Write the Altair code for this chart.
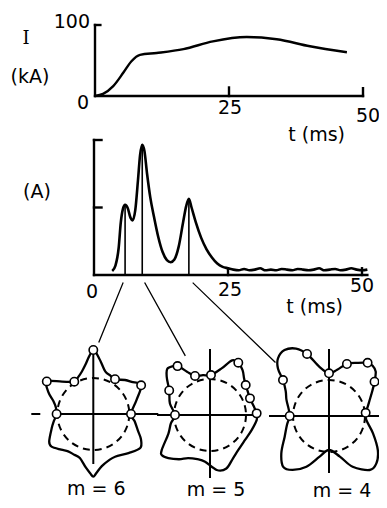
import altair as alt
import pandas as pd

# ---------------- data ----------------
# top panel: plasma current I (kA) vs t (ms)
top_t = [0, 1.5, 3.4, 5.3, 6.8, 8.4, 11.5, 16.5, 22, 28.3, 33.9, 40.1, 47]
top_I = [0, 3, 14, 33, 49, 58, 60.6, 66, 77, 83, 80, 70, 61.6]

# middle panel: signal (A) vs t (ms)
mid_t = [3.4, 4.0, 4.6, 5.0, 5.4, 5.8, 6.3, 6.8, 7.2, 7.7, 8.2, 8.6, 9.0, 9.4, 9.9,
         10.5, 11.2, 12.0, 12.8, 13.6, 14.3, 15.0, 15.8, 16.6, 17.2, 17.7, 18.2, 19.0,
         20.0, 21.0, 22.0, 23.0, 24.0, 25.0, 26.0, 27, 28, 29, 30, 31, 32, 33, 34, 35,
         36, 37, 38, 39, 40, 41, 42, 43, 44, 45, 46, 47, 48, 49, 50, 51]
mid_A = [0.06, 0.14, 0.4, 0.78, 0.98, 1.04, 0.99, 0.85, 0.81, 0.96, 1.4, 1.78, 1.93, 1.84, 1.5,
         1.15, 0.86, 0.56, 0.34, 0.22, 0.19, 0.23, 0.42, 0.77, 1.02, 1.13, 1.0, 0.78,
         0.55, 0.38, 0.26, 0.17, 0.12, 0.1, 0.08, 0.07, 0.09, 0.07, 0.08, 0.1, 0.07, 0.08, 0.07, 0.09,
         0.08, 0.07, 0.09, 0.08, 0.07, 0.08, 0.1, 0.07, 0.08, 0.09, 0.07, 0.08, 0.1, 0.08, 0.07, 0.08]
peak_t = [5.8, 9.0, 17.7]
peak_A = [1.04, 1.93, 1.13]

# connectors from the peaks to the mode pictures (in middle-panel units)
conn_t0 = [5.4, 9.5, 18.5]
conn_t1 = [0.93, 16.98, 33.77]
conn_y0 = [-0.12, -0.12, -0.12]
conn_y1 = [-0.99, -1.19, -1.29]

# polar mode shapes: angle (deg) and radius (dashed circle radius = 36)
m6_theta = [0, 18, 31, 40, 47, 58, 66, 74, 82, 87, 90, 94, 99, 105, 112, 120, 134, 145, 154, 162,
            170, 180, 190, 199, 212, 218, 228, 236, 245, 253, 262, 267, 270, 273, 279, 288, 297,
            312, 324, 332, 339, 350]
m6_r = [37.7, 45.5, 55.8, 50, 46.5, 41, 42, 44, 53, 60.8, 64, 58, 50, 44, 40, 37.5, 45, 56.8, 50, 42,
        38, 36.7, 40, 44, 52, 53, 48, 45, 45, 46, 54, 59.4, 62.7, 59, 53, 49, 48,
        52.6, 58, 54, 48, 42]
m6_mark_theta = [0, 31, 58, 90, 120.5, 145, 180]
m6_mark_r = [37.7, 55.8, 41, 64, 37.5, 56.8, 36.7]

m5_theta = [2, 12, 22.6, 32, 40, 47, 54, 61.6, 68, 76, 88.6, 100, 111, 118, 123.6, 132, 138.5, 149,
            164, 180, 192, 204, 216, 220, 226, 235, 243, 254, 264, 277, 287, 298, 309, 325, 340, 354]
m5_r = [46.7, 44.5, 43.3, 44.5, 46.6, 50, 55.4, 59.5, 59, 48, 40, 40.5, 41.8, 49, 58.7, 63, 57.8, 47.6,
        41.7, 35, 40, 45.5, 59.7, 62.7, 60, 54, 48.4, 46, 47, 55.4, 55.9, 49, 45, 43, 44.3, 47]
m5_mark_theta = [180, 149, 123.6, 111, 88.6, 61.6, 40, 22.6, 2]
m5_mark_r = [35, 47.6, 58.7, 41.8, 40, 59.5, 46.6, 43.3, 46.7]

m4_theta = [5, 14, 21.5, 30, 37, 43.5, 49, 54, 62, 71, 80, 90, 101, 109.5, 116, 124, 131.5, 137, 142,
            150, 159, 170, 180, 192, 205, 218, 228, 236, 246, 257, 270, 285, 295, 307, 315, 325,
            338.5, 354]
m4_r = [36.8, 40, 43.7, 50, 57, 64.4, 66.5, 65.7, 60.2, 55, 47, 42.7, 50, 65.8, 75, 79.5, 77, 69.8, 58.4,
        50, 45.6, 41, 39.3, 43, 48.9, 60.5, 68.4, 65, 55.5, 41.7, 34, 42, 56, 67.6, 67, 59.6,
        47.3, 37.5]
m4_mark_theta = [180, 142, 109.5, 90, 71, 54, 37, 5]
m4_mark_r = [39.3, 58.4, 65.8, 42.7, 55, 65.7, 57, 36.8]

circle_r = 36
mode_labels = ["m = 6", "m = 5", "m = 4"]

FONT = "DejaVu Sans"
FS = 19
LW = 2.4


def sc(domain, rng):
    return alt.Scale(domain=domain, range=rng, nice=False, zero=False)


def rules(df, xs, ys, width=LW):
    return alt.Chart(df).mark_rule(strokeWidth=width, color="black", strokeCap="square").encode(
        x=alt.X("x:Q", scale=xs, axis=None), x2="x2:Q",
        y=alt.Y("y:Q", scale=ys, axis=None), y2="y2:Q")


def label(x, y, s, xs, ys, dx=0, dy=0, align="center", font=FONT, size=FS):
    return alt.Chart(pd.DataFrame({"x": [x], "y": [y], "s": [s]})).mark_text(
        align=align, baseline="middle", dx=dx, dy=dy, font=font, fontSize=size, color="black"
    ).encode(x=alt.X("x:Q", scale=xs, axis=None), y=alt.Y("y:Q", scale=ys, axis=None), text="s:N")


layers = []

# ---------------- top panel ----------------
TX = sc([0, 50], [87, 355])
TY = sc([0, 100], [88, 17])
layers.append(rules(pd.DataFrame({
    "x": [0, 0, 0, 25, 50], "x2": [50, 0, 1, 25, 50],
    "y": [0, 0, 100, 0, 0], "y2": [0, 100, 100, 12, 11]}), TX, TY))
layers.append(alt.Chart(pd.DataFrame({"t": top_t, "I": top_I})).mark_line(
    interpolate="monotone", strokeWidth=LW, color="black").encode(
    x=alt.X("t:Q", scale=TX, axis=None), y=alt.Y("I:Q", scale=TY, axis=None)))
layers += [
    label(0, 100, "100", TX, TY, dx=-5, dy=-3, align="right"),
    label(0, 0, "0", TX, TY, dx=-12, dy=7),
    label(25, 0, "25", TX, TY, dx=1, dy=12),
    label(50, 0, "50", TX, TY, dx=5, dy=20),
    label(50, 0, "t (ms)", TX, TY, dx=-18, dy=39, align="right"),
    label(0, 100, "I", TX, TY, dx=-69, dy=14, font="DejaVu Serif", size=18),
    label(0, 100, "(kA)", TX, TY, dx=-65, dy=52),
]

# ---------------- middle panel ----------------
MX = sc([0, 50], [86, 354])
MY = sc([0, 2], [267, 132])
layers.append(rules(pd.DataFrame({
    "x": [0, 0, 0, 0, 25, 50], "x2": [51, 0, 1.4, 1.4, 25, 50],
    "y": [0, 0, 1, 2, 0, 0], "y2": [0, 2, 1, 2, 0.1, 0.1]}), MX, MY))
layers.append(rules(pd.DataFrame({
    "x": peak_t, "x2": peak_t, "y": [0] * 3, "y2": peak_A}), MX, MY, width=1.6))
layers.append(alt.Chart(pd.DataFrame({"t": mid_t, "A": mid_A})).mark_line(
    interpolate="monotone", strokeWidth=2.6, color="black").encode(
    x=alt.X("t:Q", scale=MX, axis=None), y=alt.Y("A:Q", scale=MY, axis=None)))
layers.append(rules(pd.DataFrame({
    "x": conn_t0, "x2": conn_t1, "y": conn_y0, "y2": conn_y1}), MX, MY, width=1.3))
layers += [
    label(0, 0, "0", MX, MY, dx=-2, dy=17),
    label(25, 0, "25", MX, MY, dx=2, dy=15),
    label(50, 0, "50", MX, MY, dx=0, dy=11),
    label(50, 0, "t (ms)", MX, MY, dx=-19, dy=32, align="right"),
    label(0, 1, "(A)", MX, MY, dx=-57, dy=-16),
]

# ---------------- polar mode pictures ----------------
polar = [
    (m6_theta, m6_r, m6_mark_theta, m6_mark_r, (85.3, 406),
     [(-38, 64, 0, 0), (-61, -54, 0, 0), (0, 0, -49, 62)], 3),
    (m5_theta, m5_r, m5_mark_theta, m5_mark_r, (202, 407),
     [(-52, 45, 0, 0), (0, 0, -62, 65)], 6),
    (m4_theta, m4_r, m4_mark_theta, m4_mark_r, (321, 408),
     [(-59, 58, 0, 0), (0, 0, -56, 66)], 13),
]
calc = dict(px="datum.r*cos(datum.theta*PI/180)", py="datum.r*sin(datum.theta*PI/180)")
for k, (th, rr, mth, mr, (cx, cy), cross, ldx) in enumerate(polar):
    PX = sc([-100, 100], [cx - 100, cx + 100])
    PY = sc([-100, 100], [cy + 100, cy - 100])
    cdf = pd.DataFrame(cross, columns=["x", "x2", "y", "y2"])
    layers.append(rules(cdf, PX, PY, width=2.0))
    layers.append(alt.Chart(pd.DataFrame({"x": [0], "y": [0]})).mark_point(
        shape="circle", size=(2 * circle_r) ** 2, filled=False, color="black",
        strokeWidth=2.0, strokeDash=[7, 5], opacity=1).encode(
        x=alt.X("x:Q", scale=PX, axis=None), y=alt.Y("y:Q", scale=PY, axis=None)))
    layers.append(alt.Chart(pd.DataFrame({"theta": th, "r": rr, "i": range(len(th))}))
                  .transform_calculate(**calc).mark_line(
        interpolate="cardinal-closed", strokeWidth=2.3, color="black").encode(
        x=alt.X("px:Q", scale=PX, axis=None), y=alt.Y("py:Q", scale=PY, axis=None),
        order="i:Q"))
    layers.append(alt.Chart(pd.DataFrame({"theta": mth, "r": mr}))
                  .transform_calculate(**calc).mark_point(
        shape="circle", size=70, filled=True, fill="white", stroke="black",
        strokeWidth=1.6, opacity=1).encode(
        x=alt.X("px:Q", scale=PX, axis=None), y=alt.Y("py:Q", scale=PY, axis=None)))
    layers.append(label(0, 0, mode_labels[k], PX, PY, dx=ldx, dy=75, size=19))

chart = alt.layer(*layers).resolve_scale(x="independent", y="independent").properties(
    width=371, height=492, autosize=alt.AutoSizeParams(type="none"), padding=0
).configure_view(stroke=None)

chart.save("out.html", embed_options={"renderer": "svg", "actions": False})
